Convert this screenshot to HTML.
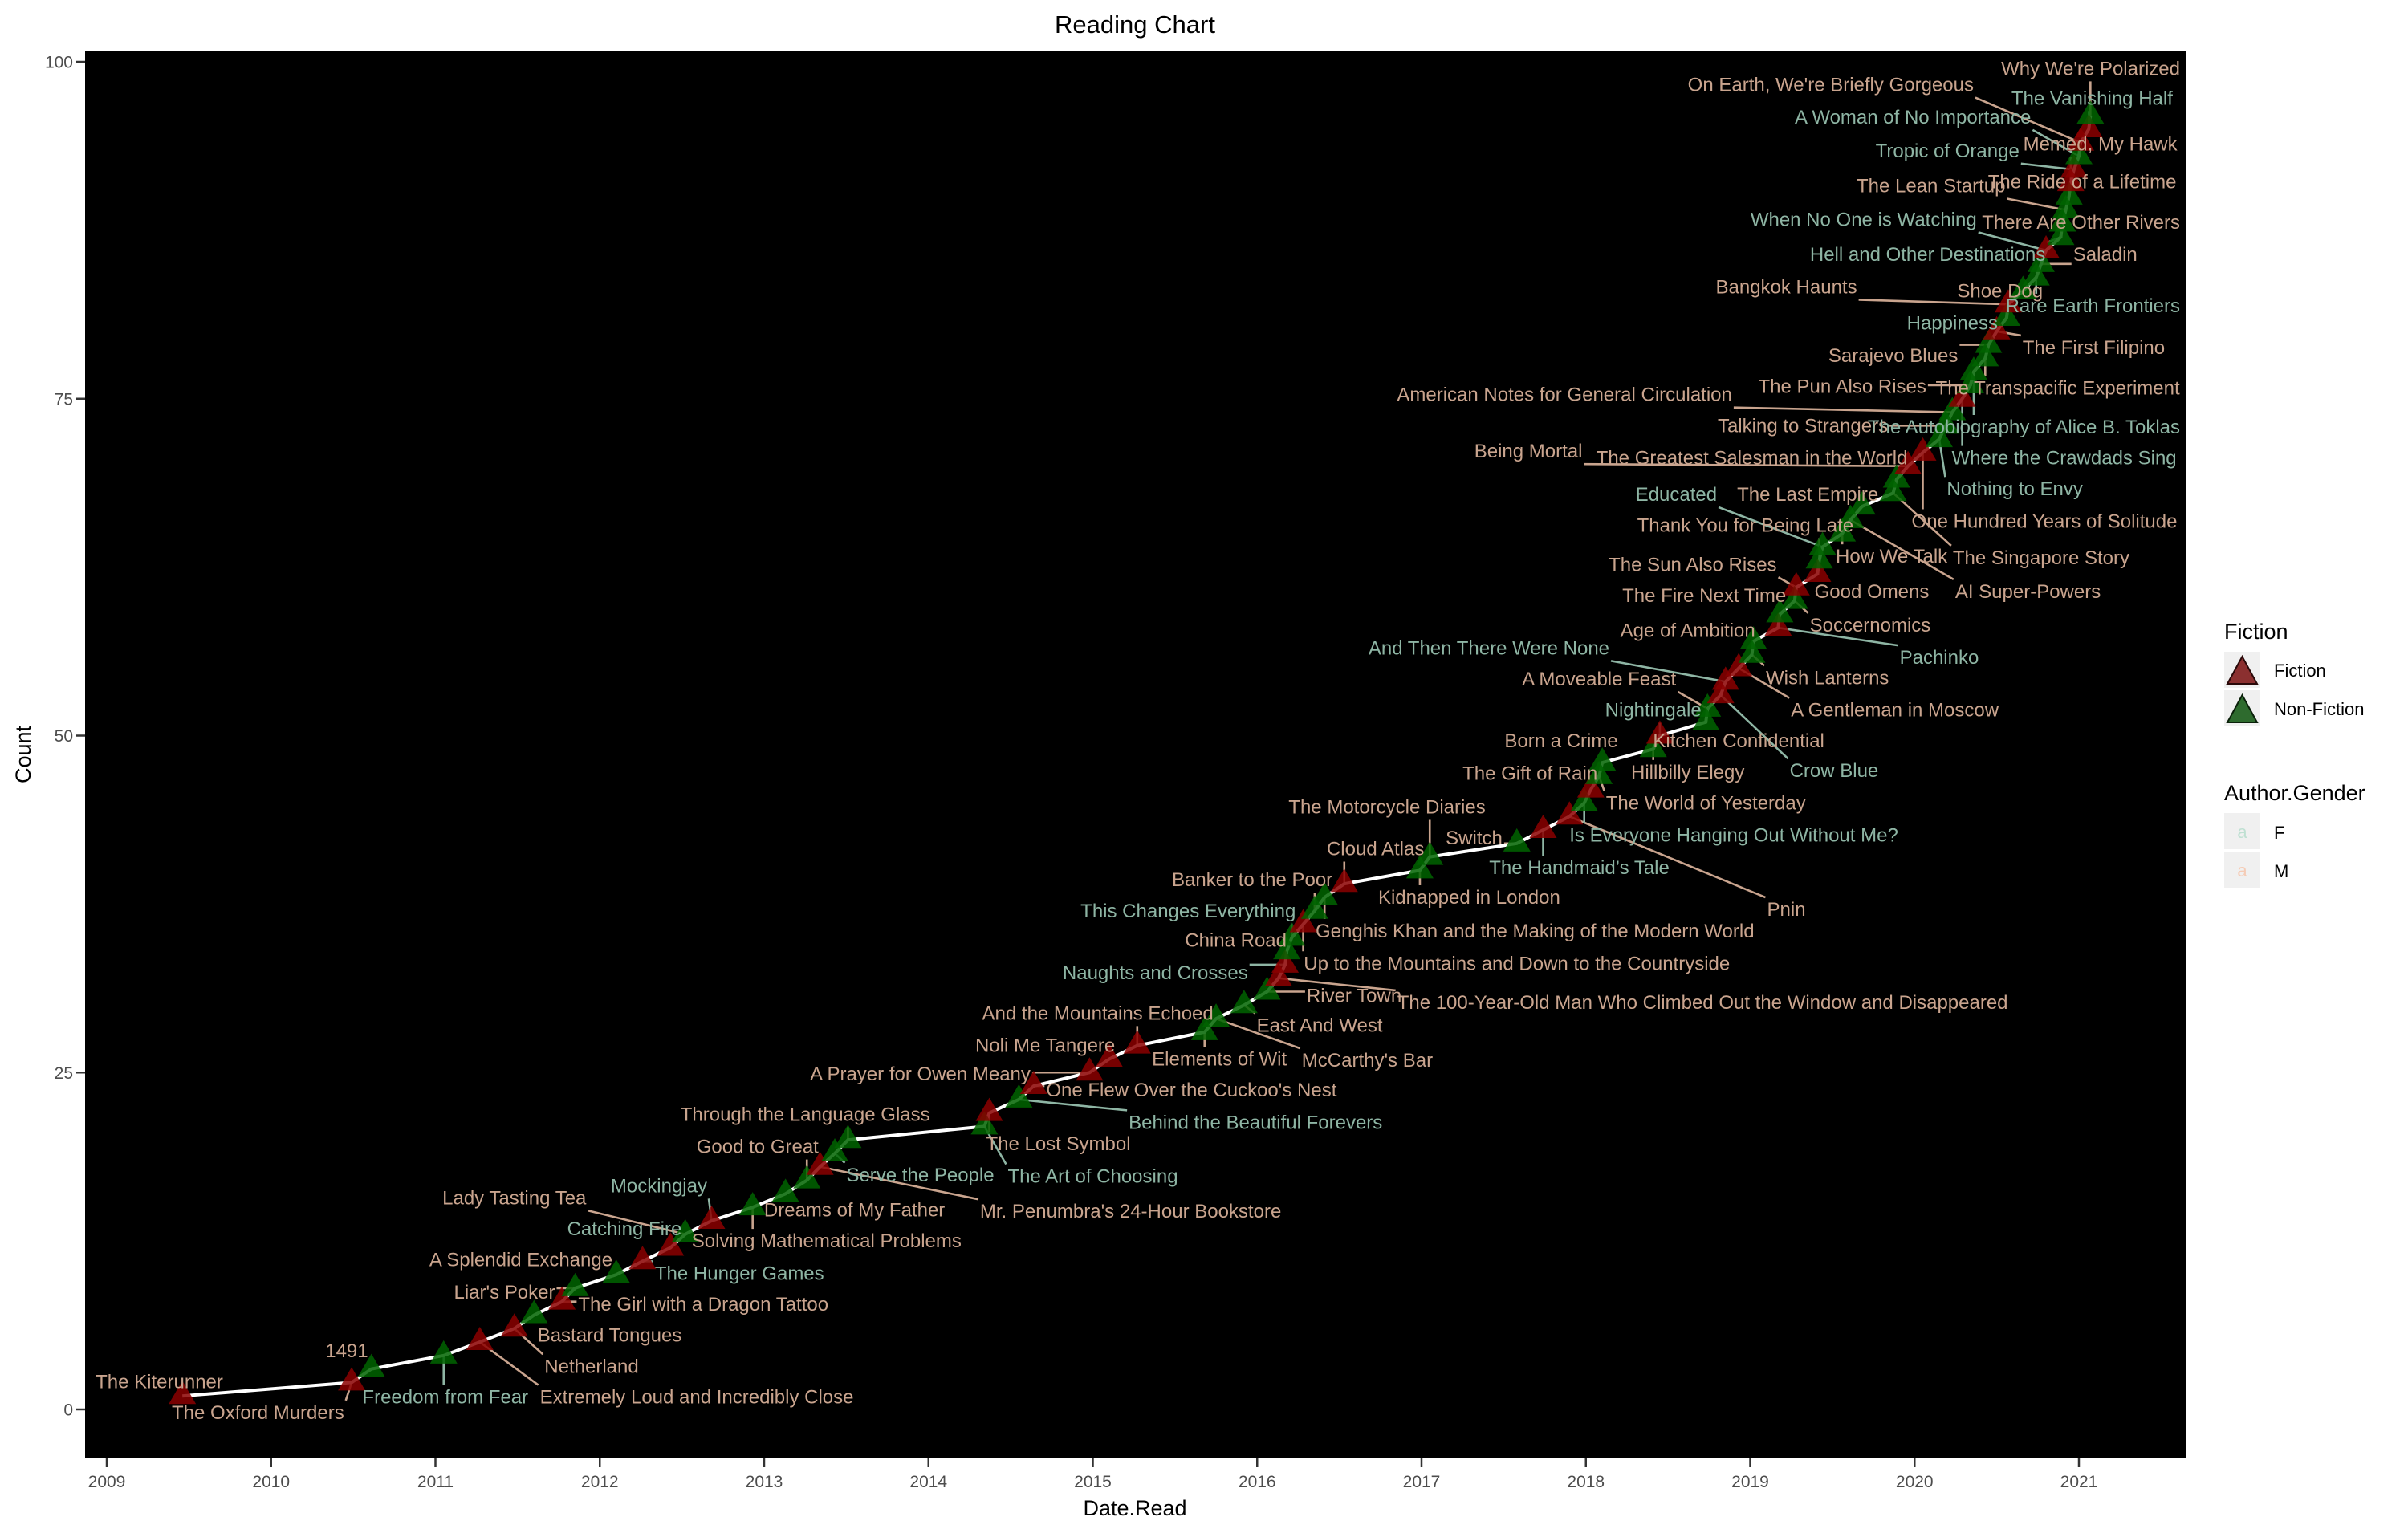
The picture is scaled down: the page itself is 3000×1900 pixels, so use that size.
<!DOCTYPE html>
<html><head><meta charset="utf-8"><style>
html,body{margin:0;padding:0;background:#fff;}
svg{display:block;font-family:"Liberation Sans",Arial,sans-serif;}
</style></head><body>
<svg id="chart" width="3000" height="1900" viewBox="0 0 3000 1900" xmlns="http://www.w3.org/2000/svg">
<text x="1414" y="41" font-size="31" text-anchor="middle" fill="#000">Reading Chart</text>
<rect x="106" y="63" width="2617" height="1754" fill="#000"/>
<g id="axes"></g>
<g id="leaders"></g>
<g id="line"></g>
<g id="points"></g>
<g id="labels"></g>
<text x="1414" y="1888" font-size="27" text-anchor="middle" fill="#000">Date.Read</text>
<text x="38" y="940" font-size="27" text-anchor="middle" fill="#000" transform="rotate(-90 38 940)">Count</text>
<g>
<text x="2771" y="796" font-size="27" fill="#000">Fiction</text>
<rect x="2771" y="812" width="45" height="45" fill="#f0f0f0"/>
<polygon points="2775,852 2793.5,818 2812,852" fill="#8b3030" stroke="#2a0a0a" stroke-width="2"/>
<text x="2833" y="843" font-size="22" fill="#000">Fiction</text>
<rect x="2771" y="860" width="45" height="45" fill="#f0f0f0"/>
<polygon points="2775,900 2793.5,866 2812,900" fill="#2e6b2e" stroke="#0a200a" stroke-width="2"/>
<text x="2833" y="891" font-size="22" fill="#000">Non-Fiction</text>
</g>
<g>
<text x="2771" y="997" font-size="27" fill="#000">Author.Gender</text>
<rect x="2771" y="1013" width="45" height="45" fill="#f0f0f0"/>
<text x="2793.5" y="1044" font-size="22" text-anchor="middle" fill="#bfe0d2">a</text>
<text x="2833" y="1045" font-size="22" fill="#000">F</text>
<rect x="2771" y="1061" width="45" height="45" fill="#f0f0f0"/>
<text x="2793.5" y="1092" font-size="22" text-anchor="middle" fill="#f5cbb5">a</text>
<text x="2833" y="1093" font-size="22" fill="#000">M</text>
</g>
</svg>
<script>
const titles = ["The Kiterunner","The Oxford Murders","1491","Freedom from Fear","Extremely Loud and Incredibly Close","Netherland","Bastard Tongues","The Girl with a Dragon Tattoo","Liar's Poker","A Splendid Exchange","The Hunger Games","Catching Fire","Lady Tasting Tea","Mockingjay","Solving Mathematical Problems","Dreams of My Father","Good to Great","Mr. Penumbra's 24-Hour Bookstore","Serve the People","Through the Language Glass","The Art of Choosing","The Lost Symbol","Behind the Beautiful Forevers","One Flew Over the Cuckoo's Nest","A Prayer for Owen Meany","Noli Me Tangere","And the Mountains Echoed","Elements of Wit","McCarthy's Bar","East And West","River Town","The 100-Year-Old Man Who Climbed Out the Window and Disappeared","Naughts and Crosses","China Road","This Changes Everything","Up to the Mountains and Down to the Countryside","Banker to the Poor","Genghis Khan and the Making of the Modern World","Cloud Atlas","Kidnapped in London","The Motorcycle Diaries","Switch","The Handmaid\u2019s Tale","Pnin","Is Everyone Hanging Out Without Me?","The Gift of Rain","The World of Yesterday","Born a Crime","Hillbilly Elegy","Nightingale","Kitchen Confidential","A Moveable Feast","Crow Blue","And Then There Were None","A Gentleman in Moscow","Wish Lanterns","Age of Ambition","Pachinko","The Fire Next Time","Soccernomics","The Sun Also Rises","Good Omens","Thank You for Being Late","Educated","How We Talk","AI Super-Powers","The Last Empire","The Singapore Story","The Greatest Salesman in the World","Being Mortal","One Hundred Years of Solitude","Nothing to Envy","Talking to Strangers","American Notes for General Circulation","Where the Crawdads Sing","The Pun Also Rises","The Autobiography of Alice B. Toklas","The Transpacific Experiment","Sarajevo Blues","The First Filipino","Happiness","Bangkok Haunts","Shoe Dog","Rare Earth Frontiers","Saladin","When No One is Watching","Hell and Other Destinations","There Are Other Rivers","The Lean Startup","The Ride of a Lifetime","Memed, My Hawk","Tropic of Orange","A Woman of No Importance","On Earth, We're Briefly Gorgeous","The Vanishing Half","Why We're Polarized"];
const dates = [2009.46,2010.49,2010.61,2011.05,2011.27,2011.48,2011.60,2011.77,2011.85,2012.10,2012.26,2012.43,2012.52,2012.68,2012.93,2013.13,2013.26,2013.34,2013.43,2013.51,2014.34,2014.37,2014.55,2014.64,2014.98,2015.10,2015.27,2015.68,2015.75,2015.92,2016.06,2016.13,2016.17,2016.18,2016.21,2016.28,2016.35,2016.41,2016.53,2016.99,2017.05,2017.58,2017.74,2017.90,2017.99,2018.03,2018.08,2018.10,2018.41,2018.45,2018.73,2018.74,2018.82,2018.85,2018.93,2019.01,2019.02,2019.17,2019.18,2019.27,2019.28,2019.41,2019.42,2019.44,2019.56,2019.61,2019.68,2019.87,2019.89,2019.96,2020.05,2020.15,2020.19,2020.23,2020.29,2020.34,2020.36,2020.43,2020.45,2020.50,2020.56,2020.57,2020.66,2020.74,2020.77,2020.80,2020.89,2020.90,2020.92,2020.94,2020.95,2020.97,2021.00,2021.01,2021.06,2021.07];
const counts = [1,2,3,4,5,6,7,8,9,10,11,12,13,14,15,16,17,18,19,20,21,22,23,24,25,26,27,28,29,30,31,32,33,34,35,36,37,38,39,40,41,42,43,44,45,46,47,48,49,50,51,52,53,54,55,56,57,58,59,60,61,62,63,64,65,66,67,68,69,70,71,72,73,74,75,76,77,78,79,80,81,82,83,84,85,86,87,88,89,90,91,92,93,94,95,96];
const fictionIdx = [1,2,5,6,8,11,12,14,18,22,24,25,26,27,32,33,36,39,43,44,46,50,53,54,55,58,61,62,70,71,75,80,82,86,91,92,94,95];
const femaleIdx = [4,11,12,14,19,21,23,33,35,43,45,50,53,54,58,64,72,75,77,81,84,86,87,92,93,95];
const labelDates = [2009.32,2009.92,2010.46,2011.06,2012.59,2011.95,2012.06,2012.63,2011.42,2011.52,2012.85,2012.15,2011.48,2012.36,2013.38,2013.55,2012.96,2015.23,2013.95,2013.25,2015.0,2014.79,2015.99,2015.6,2013.95,2014.71,2015.03,2015.77,2016.67,2016.38,2016.59,2018.71,2015.38,2015.87,2015.58,2017.58,2015.97,2017.69,2016.72,2017.29,2016.79,2017.32,2017.96,2019.22,2018.9,2017.66,2018.73,2017.85,2018.62,2018.41,2018.93,2018.08,2019.51,2017.41,2019.88,2019.47,2018.62,2020.15,2018.72,2019.73,2018.65,2019.74,2018.97,2018.55,2019.86,2020.69,2019.35,2020.77,2019.01,2017.65,2020.79,2020.61,2019.32,2017.87,2020.91,2019.56,2020.84,2020.92,2019.87,2021.09,2020.23,2019.22,2020.52,2021.15,2021.16,2019.69,2020.08,2021.07,2020.1,2021.02,2021.13,2020.2,2019.99,2019.49,2021.08,2021.1];
const labelCounts = [2.06,-0.23,4.35,0.92,0.92,3.2,5.5,7.8,8.7,11.1,10.1,13.4,15.7,16.6,12.5,14.8,19.5,14.7,17.4,21.9,17.3,19.7,21.3,23.7,24.9,27.0,29.4,26.0,25.9,28.5,30.7,30.2,32.4,34.8,37.0,33.1,39.3,35.5,41.6,38.0,44.7,42.4,40.2,37.1,42.6,47.2,45.0,49.6,47.3,51.9,49.6,54.2,47.4,56.5,51.9,54.3,57.8,55.8,60.4,58.2,62.7,60.7,65.6,67.9,63.3,60.7,67.9,63.2,70.6,71.1,65.9,68.3,73.0,75.3,70.6,75.9,72.9,75.8,78.2,78.8,80.6,83.3,83.0,81.9,85.7,88.3,85.7,88.1,90.8,91.1,93.9,93.4,95.9,98.3,97.3,99.5];
const xTicks = [2009,2010,2011,2012,2013,2014,2015,2016,2017,2018,2019,2020,2021];
const yTicks = [0,25,50,75,100];

const NS = "http://www.w3.org/2000/svg";
const X0 = 133, PXY = 204.75, Y0 = 1756, PXC = 16.79;
const PANEL_RIGHT = 2716;
function sx(d){ return X0 + (d - 2009) * PXY; }
function sy(c){ return Y0 - c * PXC; }
function mk(tag, attrs, parent){ const e = document.createElementNS(NS, tag); for (const k in attrs) e.setAttribute(k, attrs[k]); parent.appendChild(e); return e; }

const axes = document.getElementById('axes');
xTicks.forEach(t => {
  const l = mk('line', {x1: sx(t), x2: sx(t), y1: 1817, y2: 1828, stroke: '#333', 'stroke-width': 2.5}, axes);
  
  
  const tx = mk('text', {x: sx(t), y: 1853, 'font-size': 21, 'text-anchor': 'middle', fill: '#4d4d4d'}, axes);
  tx.textContent = t;
  
  
});
yTicks.forEach(t => {
  const l = mk('line', {x1: 95, x2: 106, y1: sy(t), y2: sy(t), stroke: '#333', 'stroke-width': 2.5}, axes);
  
  
  const tx = mk('text', {x: 91, y: sy(t) + 7.5, 'font-size': 21, 'text-anchor': 'end', fill: '#4d4d4d'}, axes);
  tx.textContent = t;
  
  
});

const lineG = document.getElementById('line');
const path = mk('polyline', {points: dates.map((d, i) => sx(d) + ',' + sy(counts[i])).join(' '), fill: 'none', stroke: '#fff', 'stroke-width': 4}, lineG);



const ptsG = document.getElementById('points');
const labG = document.getElementById('labels');
const ledG = document.getElementById('leaders');
const TAN = '#c9a48e', TEAL = '#8eb5a4';
dates.forEach((d, i) => {
  const n = i + 1;
  const px = sx(d), py = sy(counts[i]);
  const fic = fictionIdx.includes(n);
  const tri = mk('polygon', {points: (px - 17) + ',' + (py + 10) + ' ' + px + ',' + (py - 19) + ' ' + (px + 17) + ',' + (py + 10), fill: fic ? '#8b0000' : '#006400', 'fill-opacity': 0.85}, ptsG);
  
  
  const col = femaleIdx.includes(n) ? TEAL : TAN;
  let lx = sx(labelDates[i]);
  const ly = sy(labelCounts[i]);
  const t = mk('text', {x: lx, y: ly + 8, 'font-size': 24, 'text-anchor': 'middle', fill: col}, labG);
  t.textContent = titles[i];
  
  
  let bb = t.getBBox();
  if (bb.x + bb.width > PANEL_RIGHT) {
    lx -= (bb.x + bb.width - PANEL_RIGHT);
    t.setAttribute('x', lx);
    bb = t.getBBox();
  }
  const bx0 = bb.x - 2, bx1 = bb.x + bb.width + 2, by0 = bb.y - 2, by1 = bb.y + bb.height + 2;
  const cx = Math.max(bx0, Math.min(px, bx1)), cy = Math.max(by0, Math.min(py, by1));
  const dist = Math.hypot(cx - px, cy - py);
  if (dist > 12) {
    const seg = mk('line', {x1: px, y1: py, x2: cx, y2: cy, stroke: col, 'stroke-width': 2.6}, ledG);
    
    
  }
});
</script>
</body></html>
